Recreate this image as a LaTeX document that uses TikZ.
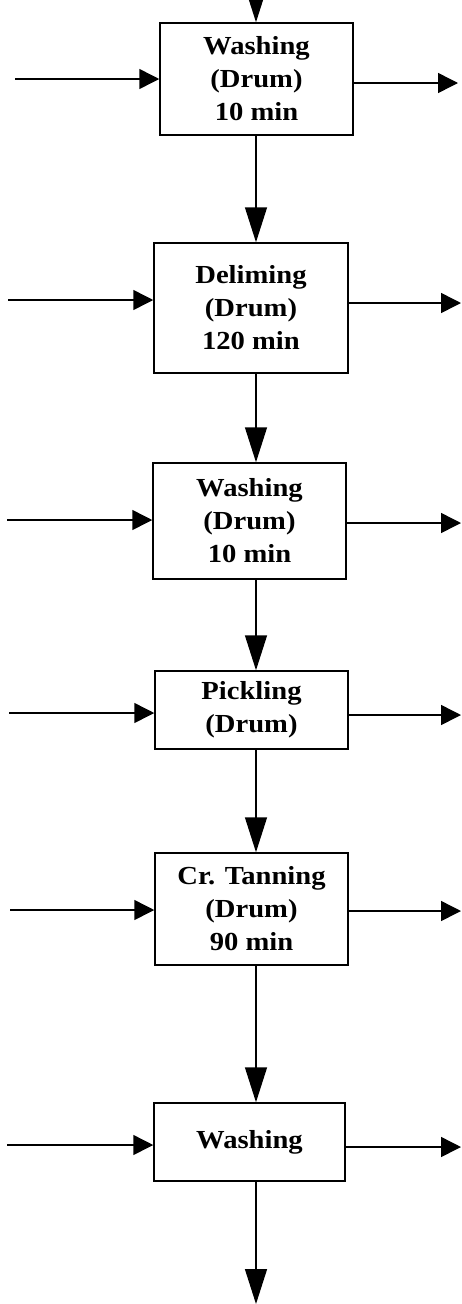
\documentclass[tikz,border=0pt]{standalone}
\usepackage{fontspec}
\setmainfont{Liberation Serif}[FakeStretch=1.1]
\usetikzlibrary{arrows.meta}
\tikzset{
  box/.style={draw, line width=1.5pt, inner sep=0pt, align=center,
    font=\fontsize{26}{33}\selectfont\bfseries},
  harrow/.style={line width=1.5pt, -{Triangle[length=20pt,width=20pt]}},
  varrow/.style={line width=1.5pt, -{Triangle[length=35pt,width=22pt]}}
}
\begin{document}
\begin{tikzpicture}[x=1pt,y=-1pt]
\useasboundingbox (0,0) rectangle (462,1304);
\clip (0,0) rectangle (462,1304);
\fill[white] (0,0) rectangle (462,1304);
% boxes
\node[box, minimum width=193pt, minimum height=112pt] (b1) at (256.5,79) {Washing\\(Drum)\\10 min};
\node[box, minimum width=194pt, minimum height=130pt] (b2) at (251,308) {Deliming\\(Drum)\\120 min};
\node[box, minimum width=193pt, minimum height=116pt] (b3) at (249.5,521) {Washing\\(Drum)\\10 min};
\node[box, minimum width=193pt, minimum height=78pt] (b4) at (251.5,710) {Pickling\\(Drum)};
\node[box, minimum width=193pt, minimum height=112pt] (b5) at (251.5,909) {Cr. Tanning\\(Drum)\\90 min};
\node[box, minimum width=191pt, minimum height=78pt] (b6) at (249.5,1142) {Washing};
% column of the vertical flow
\coordinate (c) at (256,0);
\coordinate (top) at (256,-40);
\coordinate (bot) at (256,1304);
\draw[varrow] (top) -- (b1.north -| c);
\draw[varrow] (b1.south -| c) -- (b2.north -| c);
\draw[varrow] (b2.south -| c) -- (b3.north -| c);
\draw[varrow] (b3.south -| c) -- (b4.north -| c);
\draw[varrow] (b4.south -| c) -- (b5.north -| c);
\draw[varrow] (b5.south -| c) -- (b6.north -| c);
\draw[varrow] (b6.south -| c) -- (bot);
% inputs
\coordinate (l1) at (15,79);
\coordinate (l2) at (8,300);
\coordinate (l3) at (7,520);
\coordinate (l4) at (9,713);
\coordinate (l5) at (10,910);
\coordinate (l6) at (7,1145);
\draw[harrow] (l1) -- (l1 -| b1.west);
\draw[harrow] (l2) -- (l2 -| b2.west);
\draw[harrow] (l3) -- (l3 -| b3.west);
\draw[harrow] (l4) -- (l4 -| b4.west);
\draw[harrow] (l5) -- (l5 -| b5.west);
\draw[harrow] (l6) -- (l6 -| b6.west);
% outputs
\coordinate (r1) at (458,83);
\coordinate (r2) at (461,303);
\coordinate (r3) at (461,523);
\coordinate (r4) at (461,715);
\coordinate (r5) at (461,911);
\coordinate (r6) at (461,1147);
\draw[harrow] (b1.east |- r1) -- (r1);
\draw[harrow] (b2.east |- r2) -- (r2);
\draw[harrow] (b3.east |- r3) -- (r3);
\draw[harrow] (b4.east |- r4) -- (r4);
\draw[harrow] (b5.east |- r5) -- (r5);
\draw[harrow] (b6.east |- r6) -- (r6);
\end{tikzpicture}
\end{document}
